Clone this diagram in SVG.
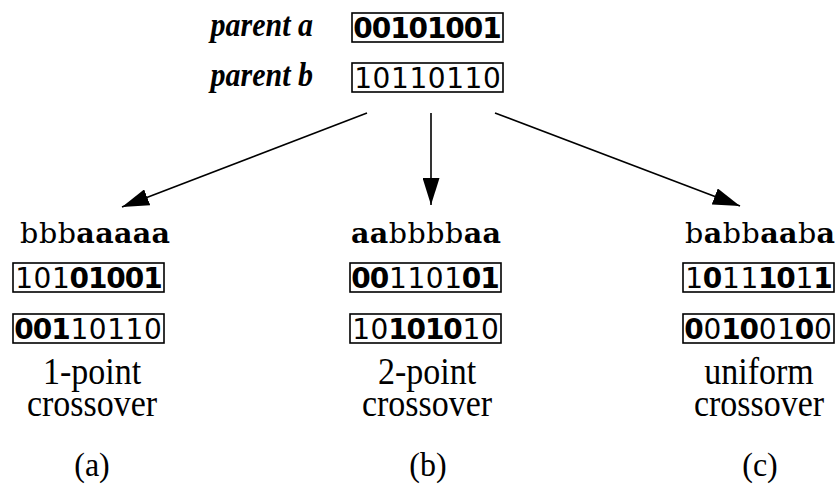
<svg xmlns="http://www.w3.org/2000/svg" width="837" height="485" viewBox="0 0 837 485">
  <style>
    .box { fill: none; stroke: #000; stroke-width: 1.6; }
    .bits { font-family: "DejaVu Sans", sans-serif; font-size: 28px; text-anchor: middle; fill: #000; }
    .seq { font-family: "DejaVu Serif", serif; font-size: 28.5px; text-anchor: middle; fill: #000; }
    .b { font-weight: bold; }
    .par { font-family: "Liberation Serif", serif; font-style: italic; font-weight: bold; font-size: 30px; text-anchor: end; fill: #000; }
    .cap { font-family: "Liberation Serif", serif; font-size: 34px; text-anchor: middle; fill: #000; }
    .tag { font-family: "Liberation Serif", serif; font-size: 32px; text-anchor: middle; fill: #000; }
    .edge { stroke: #000; stroke-width: 1.6; fill: none; marker-end: url(#head); }
  </style>
  <defs>
    <marker id="head" markerUnits="userSpaceOnUse" markerWidth="27" markerHeight="17" refX="27" refY="8.5" orient="auto">
      <path d="M0,0 L27,8.5 L0,17 z" fill="#000"/>
    </marker>
  </defs>

  <!-- parents -->
  <g id="parent-a">
    <text class="par" transform="translate(313,36) scale(1,1.1)">parent a</text>
    <rect class="box" x="352" y="13" width="151" height="29"/>
    <text class="bits b" x="363.1 381.5 399.9 418.3 436.7 455.1 473.5 491.9" y="38">00101001</text>
  </g>
  <g id="parent-b">
    <text class="par" transform="translate(313,86) scale(1,1.1)">parent b</text>
    <rect class="box" x="352" y="63" width="151" height="29"/>
    <text class="bits" x="363.1 381.5 399.9 418.3 436.7 455.1 473.5 491.9" y="88">10110110</text>
  </g>

  <!-- connectors -->
  <g id="connectors">
    <line class="edge" x1="367" y1="113" x2="122" y2="207"/>
    <line class="edge" x1="431" y1="113" x2="431" y2="205"/>
    <line class="edge" x1="495" y1="113" x2="740" y2="206"/>
  </g>

  <!-- (a) one-point crossover -->
  <g id="one-point">
    <text class="seq" x="29.2 48 66.8 85.6 104.4 123.2 142 160.8" y="243">bbb<tspan class="b">aaaaa</tspan></text>
    <rect class="box" x="13" y="263" width="151" height="29"/>
    <text class="bits" x="24.1 42.5 60.9 79.3 97.7 116.1 134.5 152.9" y="288">101<tspan class="b">01001</tspan></text>
    <rect class="box" x="13" y="314" width="151" height="29"/>
    <text class="bits" x="24.1 42.5 60.9 79.3 97.7 116.1 134.5 152.9" y="339"><tspan class="b">001</tspan>10110</text>
    <text class="cap" transform="translate(92,384) scale(1,1.12)"><tspan x="0" y="0">1-point</tspan><tspan x="0" dy="28.6">crossover</tspan></text>
    <text class="tag" transform="translate(92,476) scale(1,1.05)">(a)</text>
  </g>

  <!-- (b) two-point crossover -->
  <g id="two-point">
    <text class="seq" x="360.2 379 397.8 416.6 435.4 454.2 473 491.8" y="243"><tspan class="b">aa</tspan>bbbb<tspan class="b">aa</tspan></text>
    <rect class="box" x="350" y="263" width="151" height="29"/>
    <text class="bits" x="361.1 379.5 397.9 416.3 434.7 453.1 471.5 489.9" y="288"><tspan class="b">00</tspan>1101<tspan class="b">01</tspan></text>
    <rect class="box" x="350" y="314" width="151" height="29"/>
    <text class="bits" x="361.1 379.5 397.9 416.3 434.7 453.1 471.5 489.9" y="339">10<tspan class="b">1010</tspan>10</text>
    <text class="cap" transform="translate(427,384) scale(1,1.12)"><tspan x="0" y="0">2-point</tspan><tspan x="0" dy="28.6">crossover</tspan></text>
    <text class="tag" transform="translate(428,476) scale(1,1.05)">(b)</text>
  </g>

  <!-- (c) uniform crossover -->
  <g id="uniform">
    <text class="seq" x="694.2 713 731.8 750.6 769.4 788.2 807 825.8" y="243">b<tspan class="b">a</tspan>bb<tspan class="b">aa</tspan>b<tspan class="b">a</tspan></text>
    <rect class="box" x="683" y="263" width="151" height="29"/>
    <text class="bits" x="694.1 712.5 730.9 749.3 767.7 786.1 804.5 822.9" y="288">1<tspan class="b">0</tspan>11<tspan class="b">10</tspan>1<tspan class="b">1</tspan></text>
    <rect class="box" x="683" y="314" width="151" height="29"/>
    <text class="bits" x="694.1 712.5 730.9 749.3 767.7 786.1 804.5 822.9" y="339"><tspan class="b">0</tspan>0<tspan class="b">10</tspan>01<tspan class="b">0</tspan>0</text>
    <text class="cap" transform="translate(759,384) scale(1,1.12)"><tspan x="0" y="0">uniform</tspan><tspan x="0" dy="28.6">crossover</tspan></text>
    <text class="tag" transform="translate(760,476) scale(1,1.05)">(c)</text>
  </g>
</svg>
